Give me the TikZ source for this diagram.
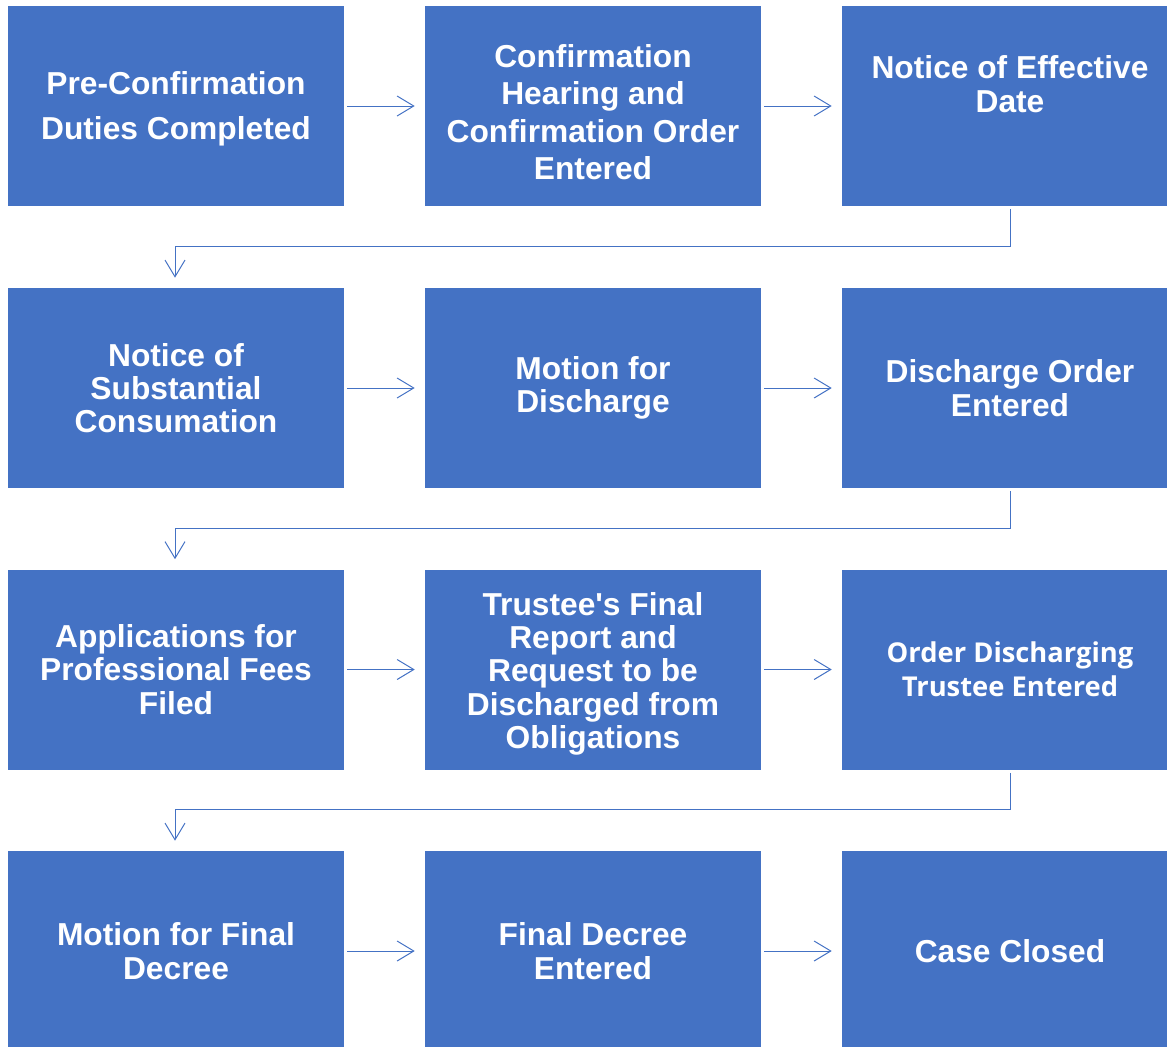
\documentclass[tikz,border=0pt]{standalone}
\usepackage{fontspec}
\setmainfont{Liberation Sans}
\newfontfamily\osans{Open Sans}
\usetikzlibrary{arrows.meta}
\definecolor{ofblue}{HTML}{4472C4}

\begin{document}
\begin{tikzpicture}[
  x=0.75pt, y=-0.75pt,
  >={Straight Barb[length=12.5pt, width=15pt, line width=0.75pt]},
  stepbox/.style={
    fill=ofblue, draw=none, minimum width=252pt, minimum height=150pt,
    inner sep=0pt, text=white, align=center,
    font=\fontsize{23.8}{25}\selectfont\bfseries
  },
  arr/.style={->, line width=0.75pt, ofblue, shorten <=2.25pt, shorten >=7.5pt},
]

% Canvas
\useasboundingbox (0,0) rectangle (1167,1046);

% =============================================
% Row 1
% =============================================
\node[stepbox] (pre) at (176,106)
  {\rule{0pt}{21.5pt}Pre-Confirmation\\[9pt] Duties Completed};
\node[stepbox] (hear) at (593,106)
  {\rule{0pt}{26.5pt}Confirmation\\[3pt] Hearing and\\[3pt] Confirmation Order\\[3pt] Entered};
\node[stepbox] (eff) at (1010,106)
  {Notice of Effective\\ Date\\[8pt] ~};

% =============================================
% Row 2
% =============================================
\node[stepbox] (cons) at (176,388)
  {Notice of\\ Substantial\\ Consumation};
\node[stepbox] (mot) at (593,388)
  {Motion for\\ Discharge};
\node[stepbox] (dis) at (1010,388)
  {Discharge Order\\ Entered};

% =============================================
% Row 3
% =============================================
\node[stepbox] (fees) at (176,669.5)
  {Applications for\\ Professional Fees\\ Filed};
\node[stepbox] (rep) at (593,669.5)
  {\rule{0pt}{23.5pt}Trustee\textquotesingle s Final\\ Report and\\ Request to be\\ Discharged from\\ Obligations};
\node[stepbox, font=\osans\fontsize{20.5}{25.5}\selectfont\bfseries] (trus) at (1010,669.5)
  {Order Discharging\\ Trustee Entered};

% =============================================
% Row 4
% =============================================
\node[stepbox] (fmot) at (176,951)
  {Motion for Final\\ Decree};
\node[stepbox] (dec) at (593,951)
  {Final Decree\\ Entered};
\node[stepbox] (close) at (1010,951)
  {Case Closed};

% Arrows along rows
\draw[arr] (pre.east) -- (hear.west);
\draw[arr] (hear.east) -- (eff.west);
\draw[arr] (cons.east) -- (mot.west);
\draw[arr] (mot.east) -- (dis.west);
\draw[arr] (fees.east) -- (rep.west);
\draw[arr] (rep.east) -- (trus.west);
\draw[arr] (fmot.east) -- (dec.west);
\draw[arr] (dec.east) -- (close.west);

% Elbows down to next row
\draw[arr] (eff.south) -- ++(0,40) -| ([xshift=-0.75pt]cons.north);
\draw[arr] (dis.south) -- ++(0,40) -| ([xshift=-0.75pt]fees.north);
\draw[arr] (trus.south) -- ++(0,40) -| ([xshift=-0.75pt]fmot.north);

\end{tikzpicture}
\end{document}
